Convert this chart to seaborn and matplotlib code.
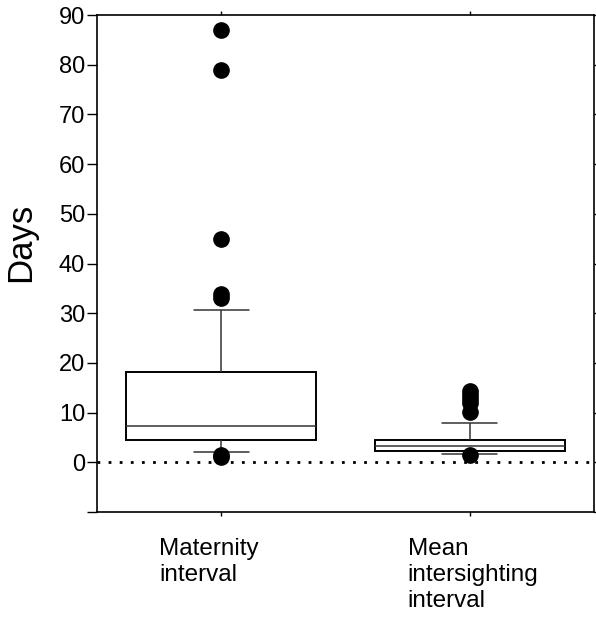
import pandas as pd
import seaborn as sns
import matplotlib.pyplot as plt
import matplotlib.transforms as mtransforms

# Values (days), sorted, one list per group
maternity = [1.0, 1.5, 2.0, 2.0, 2.0, 2.0,
             2.5, 3.0, 3.2, 3.6, 4.0, 4.3, 4.7,
             5.0, 5.3, 5.6, 5.9, 6.1, 6.4, 6.6, 6.8, 7.0,
             7.2, 7.4,
             8.0, 9.0, 10.0, 11.0, 12.0, 13.5, 15.0, 16.0, 17.0,
             18.1, 18.2,
             19.5, 21.0, 23.0, 25.5, 28.0,
             30.7, 33.0, 33.8, 45.0, 79.0, 87.0]
intersighting = [1.4, 1.75, 1.75, 1.75, 1.75, 1.75,
                 1.8, 1.9, 2.0, 2.1, 2.2, 2.3, 2.3,
                 2.4, 2.5, 2.6, 2.7, 2.8, 2.9, 3.0, 3.1, 3.1,
                 3.2, 3.2,
                 3.3, 3.4, 3.5, 3.6, 3.7, 3.8, 3.9, 4.1, 4.3,
                 4.4, 4.4,
                 4.8, 5.3, 5.9, 6.5, 7.2,
                 7.9, 10.1, 12.0, 12.8, 13.6, 14.3]
groups = ['Maternity\ninterval', 'Mean\nintersighting\ninterval']
yticks = list(range(-10, 100, 10))

df = pd.DataFrame({
    'group': [groups[0]] * len(maternity) + [groups[1]] * len(intersighting),
    'days': maternity + intersighting,
})

sns.set_style('ticks')
plt.rcParams['font.family'] = ['Liberation Sans', 'DejaVu Sans']
plt.rcParams['text.color'] = 'black'
plt.rcParams['axes.labelcolor'] = 'black'
plt.rcParams['xtick.color'] = 'black'
plt.rcParams['ytick.color'] = 'black'

fig = plt.figure(figsize=(5.96, 6.24), dpi=100)
ax = fig.add_axes([97 / 596, 1 - 512 / 624, 497 / 596, 497 / 624])

ax.axhline(0, color='black', lw=2, ls=(0, (1, 3)), zorder=0)

sns.boxplot(
    x='group', y='days', data=df, order=groups, ax=ax,
    whis=[10, 90], width=0.765, color='white', linecolor='#333333',
    linewidth=1.1, fliersize=11, capwidths=0.22,
    boxprops=dict(edgecolor='black', linewidth=1.4),
    flierprops=dict(marker='o', markerfacecolor='black', markeredgecolor='black'),
)

ax.set_xlim(-0.5, 1.5)
ax.set_ylim(-10, 90)
ax.set_yticks(yticks)
ax.set_yticklabels(['' if t < 0 else str(t) for t in yticks])
ax.set_xlabel('')
ax.set_ylabel('Days', fontsize=25)
ax.yaxis.set_label_coords(-0.12, 0.543)

for s in ax.spines.values():
    s.set_visible(True)
    s.set_color('black')
    s.set_linewidth(1.2)

ax.tick_params(axis='y', labelsize=17, length=7, width=1, direction='out',
               right=True, pad=1.5)
ax.tick_params(axis='x', labelsize=17.5, length=3, width=1, direction='out',
               top=True, pad=15.5)

offset = mtransforms.ScaledTranslation(-0.62, 0, fig.dpi_scale_trans)
for lab in ax.get_xticklabels():
    lab.set_horizontalalignment('left')
    lab.set_multialignment('left')
    lab.set_linespacing(1.25)
    lab.set_transform(lab.get_transform() + offset)

fig.savefig('out.png', dpi=100)
